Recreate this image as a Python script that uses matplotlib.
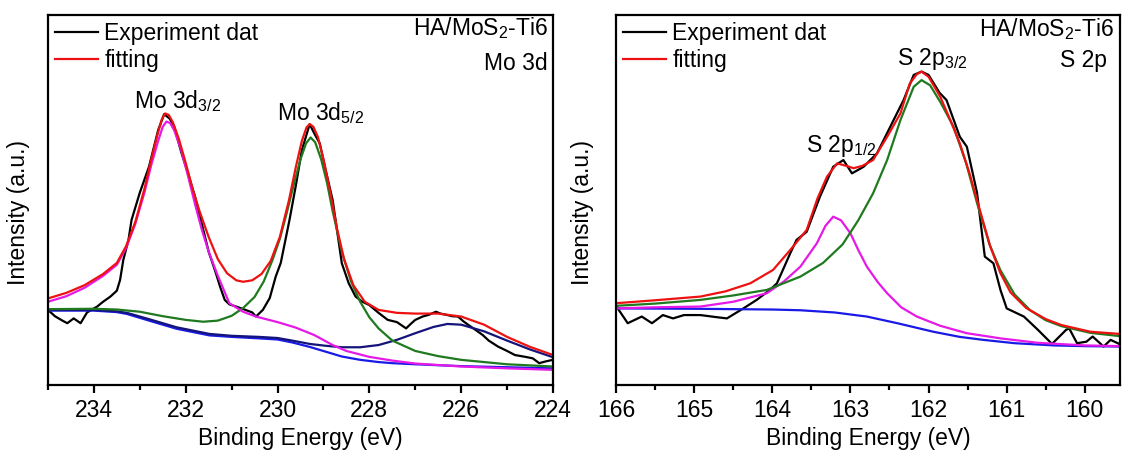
import matplotlib
matplotlib.use("Agg")
import matplotlib.pyplot as plt
from matplotlib.ticker import MultipleLocator

plt.rcParams['font.family'] = ['Liberation Sans', 'DejaVu Sans']
plt.rcParams['mathtext.default'] = 'regular'
FS = 16.5

# ---------------- Mo 3d panel ----------------
mo_exp_x = [235.0, 234.85, 234.7, 234.58, 234.44, 234.29, 234.15, 233.93, 233.8, 233.64, 233.5,
            233.43, 233.36, 233.25, 233.18, 233.0, 232.8, 232.6, 232.47, 232.35, 232.25, 232.1,
            231.95, 231.8, 231.67, 231.5, 231.35, 231.25, 231.15, 231.05, 230.9, 230.7, 230.55,
            230.47, 230.32, 230.17, 230.04, 229.93, 229.74, 229.6, 229.47, 229.3, 229.2, 229.08,
            228.95, 228.8, 228.6, 228.45, 228.3, 228.15, 228.0, 227.8, 227.6, 227.4, 227.2, 227.1,
            227.0, 226.84, 226.7, 226.55, 226.45, 226.3, 226.2, 226.07, 225.95, 225.84, 225.7,
            225.53, 225.4, 225.2, 225.0, 224.83, 224.6, 224.44, 224.3, 224.15, 224.0]
mo_exp_y = [20.3, 18.6, 17.5, 16.7, 18.0, 16.7, 19.6, 21.2, 22.5, 23.9, 25.5,
            28.4, 33.8, 39.0, 44.6, 52.0, 59.0, 68.9, 73.2, 72.0, 69.8, 63.0,
            57.2, 51.0, 44.6, 36.0, 30.5, 26.5, 23.0, 21.8, 21.2, 20.3, 19.6,
            18.5, 20.3, 23.5, 29.3, 33.0, 44.6, 54.0, 63.5, 70.5, 68.0, 65.3,
            58.0, 50.0, 32.9, 27.5, 23.9, 22.5, 21.6, 19.5, 17.6, 17.0, 15.3, 16.5,
            17.6, 18.5, 19.0, 19.8, 19.3, 18.9, 18.6, 18.5, 17.2, 16.2, 15.0,
            13.5, 12.0, 10.4, 9.2, 8.1, 7.6, 7.2, 5.9, 6.4, 6.8]

mo_fit_x = [235.0, 234.6, 234.2, 233.8, 233.5, 233.3, 233.1, 232.9, 232.75, 232.62, 232.52,
            232.45, 232.37, 232.28, 232.15, 232.0, 231.85, 231.7, 231.5, 231.3, 231.1, 230.9,
            230.75, 230.55, 230.35, 230.15, 229.95, 229.75, 229.6, 229.47, 229.37, 229.3, 229.22,
            229.12, 229.0, 228.85, 228.7, 228.55, 228.35, 228.1, 227.8, 227.4, 227.0, 226.5,
            226.0, 225.5, 225.0, 224.5, 224.0]
mo_fit_y = [23.4, 24.9, 27.0, 30.0, 33.0, 37.5, 44.0, 53.0, 61.0, 67.5, 71.8,
            73.4, 73.0, 71.0, 66.5, 60.0, 53.0, 47.0, 40.0, 34.0, 30.2, 28.3,
            27.9, 28.3, 30.0, 33.5, 40.0, 50.0, 59.0, 66.0, 69.6, 70.5, 69.8,
            67.0, 61.0, 52.0, 42.0, 34.0, 27.0, 22.5, 20.3, 19.5, 19.3, 19.3,
            18.5, 16.3, 13.0, 10.3, 8.1]

mo32_x = [235.0, 234.6, 234.2, 233.8, 233.5, 233.3, 233.1, 232.9, 232.75, 232.6, 232.5,
          232.42, 232.34, 232.25, 232.1, 231.95, 231.8, 231.65, 231.5, 231.3, 231.05, 230.75,
          230.47, 230.0, 229.6, 229.2, 228.8, 228.5, 228.0, 227.5, 227.0, 226.0, 225.0, 224.0]
mo32_y = [22.5, 24.0, 26.3, 29.5, 32.5, 37.0, 43.5, 52.0, 59.5, 66.0, 69.8,
          71.2, 70.8, 68.8, 63.5, 56.5, 49.0, 42.0, 36.0, 29.5, 22.1, 19.8,
          18.5, 17.0, 15.5, 13.5, 10.8, 9.2, 7.6, 6.6, 5.8, 5.0, 4.5, 4.1]

mo52_x = [235.0, 234.0, 233.5, 233.0, 232.5, 232.0, 231.62, 231.3, 231.0, 230.75, 230.5,
          230.3, 230.11, 229.95, 229.8, 229.65, 229.5, 229.38, 229.28, 229.18, 229.05, 228.92,
          228.8, 228.6, 228.4, 228.2, 228.0, 227.8, 227.5, 227.0, 226.5, 226.0, 225.0, 224.0]
mo52_y = [20.5, 20.6, 20.4, 19.8, 18.6, 17.6, 17.1, 17.4, 18.7, 20.8, 23.8,
          28.0, 33.8, 39.5, 46.5, 54.0, 61.0, 65.3, 66.9, 65.6, 61.0, 54.5,
          47.0, 36.0, 28.0, 22.5, 18.3, 15.3, 12.0, 9.2, 7.8, 6.8, 5.6, 5.0]

mo_navy_x = [235.0, 234.0, 233.5, 233.28, 232.8, 232.2, 231.48, 231.0, 230.4, 230.0, 229.68,
             229.3, 228.95, 228.6, 228.2, 227.8, 227.4, 227.0, 226.6, 226.3, 226.0, 225.5,
             225.0, 224.5, 224.0]
mo_navy_y = [20.3, 20.3, 19.9, 19.5, 17.8, 15.6, 13.8, 13.3, 13.0, 12.7, 12.0,
             11.1, 10.6, 10.2, 10.2, 10.8, 12.2, 14.0, 15.7, 16.5, 16.3, 14.5,
             12.0, 9.6, 7.5]

mo_bg_x = [235.0, 234.0, 233.5, 233.28, 232.8, 232.2, 231.48, 231.0, 230.4, 230.0, 229.68,
           229.3, 228.95, 228.6, 228.2, 227.8, 227.5, 227.0, 226.0, 225.0, 224.0]
mo_bg_y = [20.1, 20.1, 19.7, 19.2, 17.4, 15.2, 13.4, 13.0, 12.6, 12.3, 11.5,
           10.3, 9.0, 7.7, 6.8, 6.2, 5.9, 5.6, 5.1, 4.8, 4.5]

# ---------------- S 2p panel ----------------
s_exp_x = [166.0, 165.85, 165.67, 165.54, 165.4, 165.27, 165.13, 164.92, 164.7, 164.58, 164.37,
           164.2, 164.03, 163.94, 163.77, 163.69, 163.56, 163.39, 163.22, 163.09, 162.98, 162.83,
           162.66, 162.49, 162.32, 162.19, 162.09, 162.0, 161.86, 161.77, 161.6, 161.51, 161.38,
           161.28, 161.17, 161.08, 161.0, 160.78, 160.6, 160.42, 160.24, 160.2, 160.1, 159.98,
           159.9, 159.76, 159.67, 159.55]
s_exp_y = [21.4, 16.7, 18.5, 16.7, 18.9, 18.0, 18.9, 18.9, 18.3, 18.0, 20.7,
           23.0, 25.7, 27.5, 35.6, 39.2, 41.4, 50.9, 59.0, 60.8, 57.2, 59.0,
           62.6, 69.8, 77.0, 83.8, 84.7, 83.8, 79.0, 77.0, 67.1, 64.4, 52.0,
           34.7, 32.9, 25.7, 20.7, 18.5, 14.9, 11.1, 14.9, 15.3, 11.3, 11.7,
           13.1, 10.4, 12.2, 11.0]

s_fit_x = [166.0, 165.5, 164.92, 164.6, 164.28, 163.99, 163.77, 163.56, 163.42, 163.3, 163.17,
           163.05, 162.96, 162.85, 162.71, 162.53, 162.36, 162.24, 162.15, 162.09, 162.0, 161.85,
           161.72, 161.6, 161.48, 161.38, 161.21, 161.08, 160.95, 160.75, 160.5, 160.3, 159.93,
           159.55]
s_fit_y = [22.1, 22.9, 23.9, 25.3, 27.5, 31.1, 36.5, 41.9, 50.5, 56.3, 59.9,
           59.2, 58.6, 59.2, 60.8, 67.1, 73.4, 81.5, 84.0, 84.7, 83.3, 77.9,
           71.5, 65.3, 57.5, 50.0, 37.4, 30.2, 25.0, 20.8, 17.8, 16.2, 14.4,
           13.8]

s32_x = [166.0, 165.5, 164.92, 164.5, 164.07, 163.64, 163.35, 163.1, 162.9, 162.71, 162.53,
         162.36, 162.19, 162.09, 161.98, 161.85, 161.68, 161.52, 161.38, 161.22, 161.08, 160.9,
         160.7, 160.5, 160.3, 159.93, 159.55]
s32_y = [21.4, 22.0, 23.0, 24.2, 25.7, 29.3, 33.0, 38.0, 44.5, 51.8, 60.8,
         71.6, 80.6, 82.4, 81.0, 76.5, 69.8, 60.0, 49.2, 38.0, 31.0, 24.5,
         20.2, 17.5, 15.9, 14.1, 13.2]

s12_x = [166.0, 165.5, 164.92, 164.5, 164.07, 163.85, 163.64, 163.43, 163.32, 163.22, 163.12,
         163.0, 162.9, 162.79, 162.65, 162.53, 162.35, 162.15, 161.85, 161.51, 161.08, 160.6,
         160.0, 159.55]
s12_y = [20.7, 21.0, 21.2, 22.5, 24.8, 28.0, 32.0, 38.3, 43.0, 45.5, 44.5,
         41.0, 36.5, 32.0, 27.8, 24.8, 21.0, 18.5, 16.0, 14.0, 12.6, 11.4,
         10.7, 10.5]

s_bg_x = [166.0, 165.0, 164.5, 164.0, 163.64, 163.2, 162.79, 162.4, 161.94, 161.6, 161.3,
          160.9, 160.4, 160.0, 159.55]
s_bg_y = [20.7, 20.6, 20.5, 20.4, 20.2, 19.6, 18.5, 16.7, 14.4, 13.0, 12.2,
          11.3, 10.7, 10.5, 10.4]

fig = plt.figure(figsize=(11.22, 4.57), dpi=100)
ax1 = fig.add_axes([48 / 1122, 72 / 457, 505 / 1122, 370 / 457])
ax2 = fig.add_axes([616 / 1122, 72 / 457, 504 / 1122, 370 / 457])

lw = 1.6
ax1.plot(mo_exp_x, mo_exp_y, color='black', lw=lw, label='Experiment dat')
ax1.plot(mo_bg_x, mo_bg_y, color='#1a1ae6', lw=lw)
ax1.plot(mo_navy_x, mo_navy_y, color='#14147a', lw=lw)
ax1.plot(mo52_x, mo52_y, color='#1f7a1f', lw=lw)
ax1.plot(mo32_x, mo32_y, color='#e619e6', lw=lw)
ax1.plot(mo_fit_x, mo_fit_y, color='#ee1111', lw=lw, label='fitting')

ax2.plot(s_exp_x, s_exp_y, color='black', lw=lw, label='Experiment dat')
ax2.plot(s_bg_x, s_bg_y, color='#1a1ae6', lw=lw)
ax2.plot(s12_x, s12_y, color='#e619e6', lw=lw)
ax2.plot(s32_x, s32_y, color='#1f7a1f', lw=lw)
ax2.plot(s_fit_x, s_fit_y, color='#ee1111', lw=lw, label='fitting')

ax1.set_xlim(235, 224)
ax2.set_xlim(166, 159.55)
ax1.xaxis.set_major_locator(MultipleLocator(2))
ax1.xaxis.set_minor_locator(MultipleLocator(1))
ax2.xaxis.set_major_locator(MultipleLocator(1))
ax2.xaxis.set_minor_locator(MultipleLocator(0.5))

for ax in (ax1, ax2):
    ax.set_ylim(0, 100)
    ax.set_yticks([])
    for sp in ax.spines.values():
        sp.set_linewidth(1.6)
    ax.tick_params(axis='x', which='major', direction='out', length=6, width=1.6,
                   labelsize=FS, pad=4)
    ax.tick_params(axis='x', which='minor', direction='out', length=3.5, width=1.6)
    ax.set_xlabel('Binding Energy (eV)', fontsize=FS, labelpad=4)
    ax.set_ylabel('Intensity (a.u.)', fontsize=FS)
    ax.legend(loc='upper left', bbox_to_anchor=(0, 1), frameon=False, fontsize=FS,
              borderaxespad=0.1, borderpad=0.2, handlelength=1.9, handletextpad=0.25,
              labelspacing=0.2)

ax1.yaxis.set_label_coords(-0.036, 0.466)
ax2.yaxis.set_label_coords(-0.044, 0.466)

ax1.text(0.99, 0.965, 'HA/MoS$_2$-Ti6', transform=ax1.transAxes, ha='right', va='center', fontsize=FS)
ax1.text(0.99, 0.87, 'Mo 3d', transform=ax1.transAxes, ha='right', va='center', fontsize=FS)
ax1.text(233.12, 74.9, 'Mo 3d$_{3/2}$', ha='left', va='baseline', fontsize=FS)
ax1.text(230.02, 71.6, 'Mo 3d$_{5/2}$', ha='left', va='baseline', fontsize=FS)

ax2.text(0.988, 0.962, 'HA/MoS$_2$-Ti6', transform=ax2.transAxes, ha='right', va='center', fontsize=FS)
ax2.text(0.974, 0.876, 'S 2p', transform=ax2.transAxes, ha='right', va='center', fontsize=FS)
ax2.text(163.57, 63.0, 'S 2p$_{1/2}$', ha='left', va='baseline', fontsize=FS)
ax2.text(162.4, 86.5, 'S 2p$_{3/2}$', ha='left', va='baseline', fontsize=FS)

fig.savefig('out.png', dpi=100)
